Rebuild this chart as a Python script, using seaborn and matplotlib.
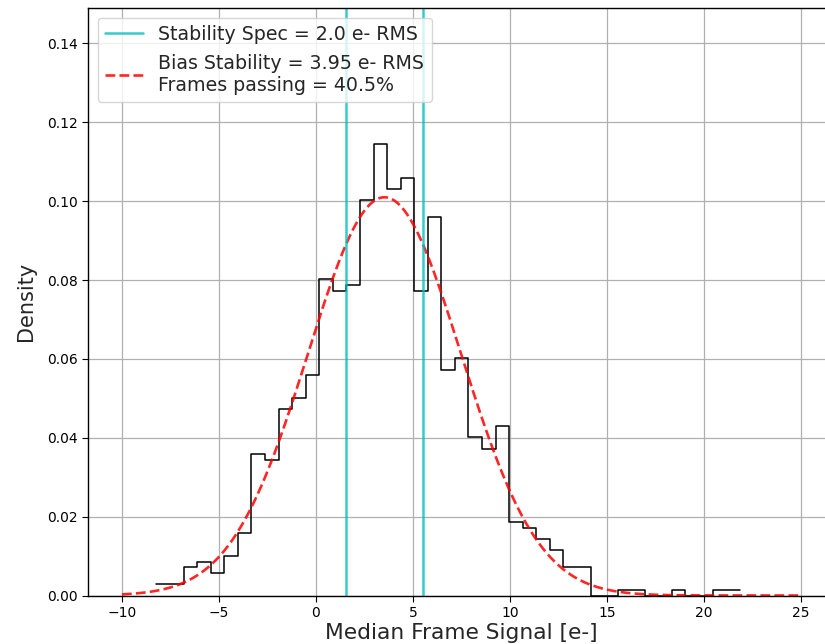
import numpy as np
import pandas as pd
import matplotlib
matplotlib.use("Agg")
import matplotlib.pyplot as plt
import seaborn as sns

# Histogram: 43 equal bins from x_min to x_max, counts per bin (N ~ 1000 frames)
x_min = -8.22
x_max = 21.84
n_bins = 43
counts = [2, 2, 5, 6, 4, 7, 11, 25, 24, 33, 35, 39, 56, 54, 55, 70, 80, 72, 74, 54,
          67, 40, 42, 28, 26, 30, 13, 12, 10, 8, 5, 5, 0, 0, 1, 1, 0, 0, 1, 0, 0, 1, 1]

# Gaussian fit parameters
fit_mean = 3.53
fit_sigma = 3.95
spec_rms = 2.0
passing_pct = 40.5
curve_range = (-10, 25)

edges = np.linspace(x_min, x_max, n_bins + 1)
centers = 0.5 * (edges[:-1] + edges[1:])
hist_df = pd.DataFrame({"signal": centers, "count": counts})
gx = np.linspace(curve_range[0], curve_range[1], 500)
gy = np.exp(-0.5 * ((gx - fit_mean) / fit_sigma) ** 2) / (fit_sigma * np.sqrt(2 * np.pi))
fit_df = pd.DataFrame({"x": gx, "y": gy})

sns.set_style("ticks")
plt.rcParams['font.family'] = ['DejaVu Sans']

fig = plt.figure(figsize=(8.25, 6.44), dpi=100)
ax = fig.add_axes([88 / 825, 48.5 / 644, 747 / 825, 587.5 / 644])

sns.histplot(data=hist_df, x="signal", weights="count", bins=n_bins, binrange=(x_min, x_max),
             stat="density", element="step", fill=False, color="black", linewidth=1.1, ax=ax)

sns.lineplot(data=fit_df, x="x", y="y", ax=ax, color="red", alpha=0.85, linestyle="--",
             linewidth=1.9,
             label="Bias Stability = %.2f e- RMS\nFrames passing = %.1f%%" % (fit_sigma, passing_pct))

ax.axvline(fit_mean - spec_rms, color="c", alpha=0.8, linewidth=1.8,
           label="Stability Spec = %.1f e- RMS" % spec_rms)
ax.axvline(fit_mean + spec_rms, color="c", alpha=0.8, linewidth=1.8)

ax.set_xlim(-11.75, 26.75)
ax.set_ylim(0, 0.149)
ax.set_xticks(np.arange(-10, 26, 5))
ax.set_yticks(np.arange(0, 0.141, 0.02))
ax.grid(True, color="#b0b0b0", linewidth=0.9)
ax.set_axisbelow(True)
for s in ax.spines.values():
    s.set_color("black")
    s.set_linewidth(1.0)
ax.tick_params(labelsize=10, colors="black", length=4)

ax.set_xlabel("Median Frame Signal [e-]", fontsize=15.7, labelpad=2)
ax.set_ylabel("Density", fontsize=15, labelpad=8)

handles, labels = ax.get_legend_handles_labels()
order = [labels.index("Stability Spec = %.1f e- RMS" % spec_rms),
         [i for i, l in enumerate(labels) if l.startswith("Bias")][0]]
ax.legend([handles[i] for i in order], [labels[i] for i in order], loc="upper left",
          fontsize=13.7, framealpha=0.8)

fig.savefig("out.png", dpi=100)
